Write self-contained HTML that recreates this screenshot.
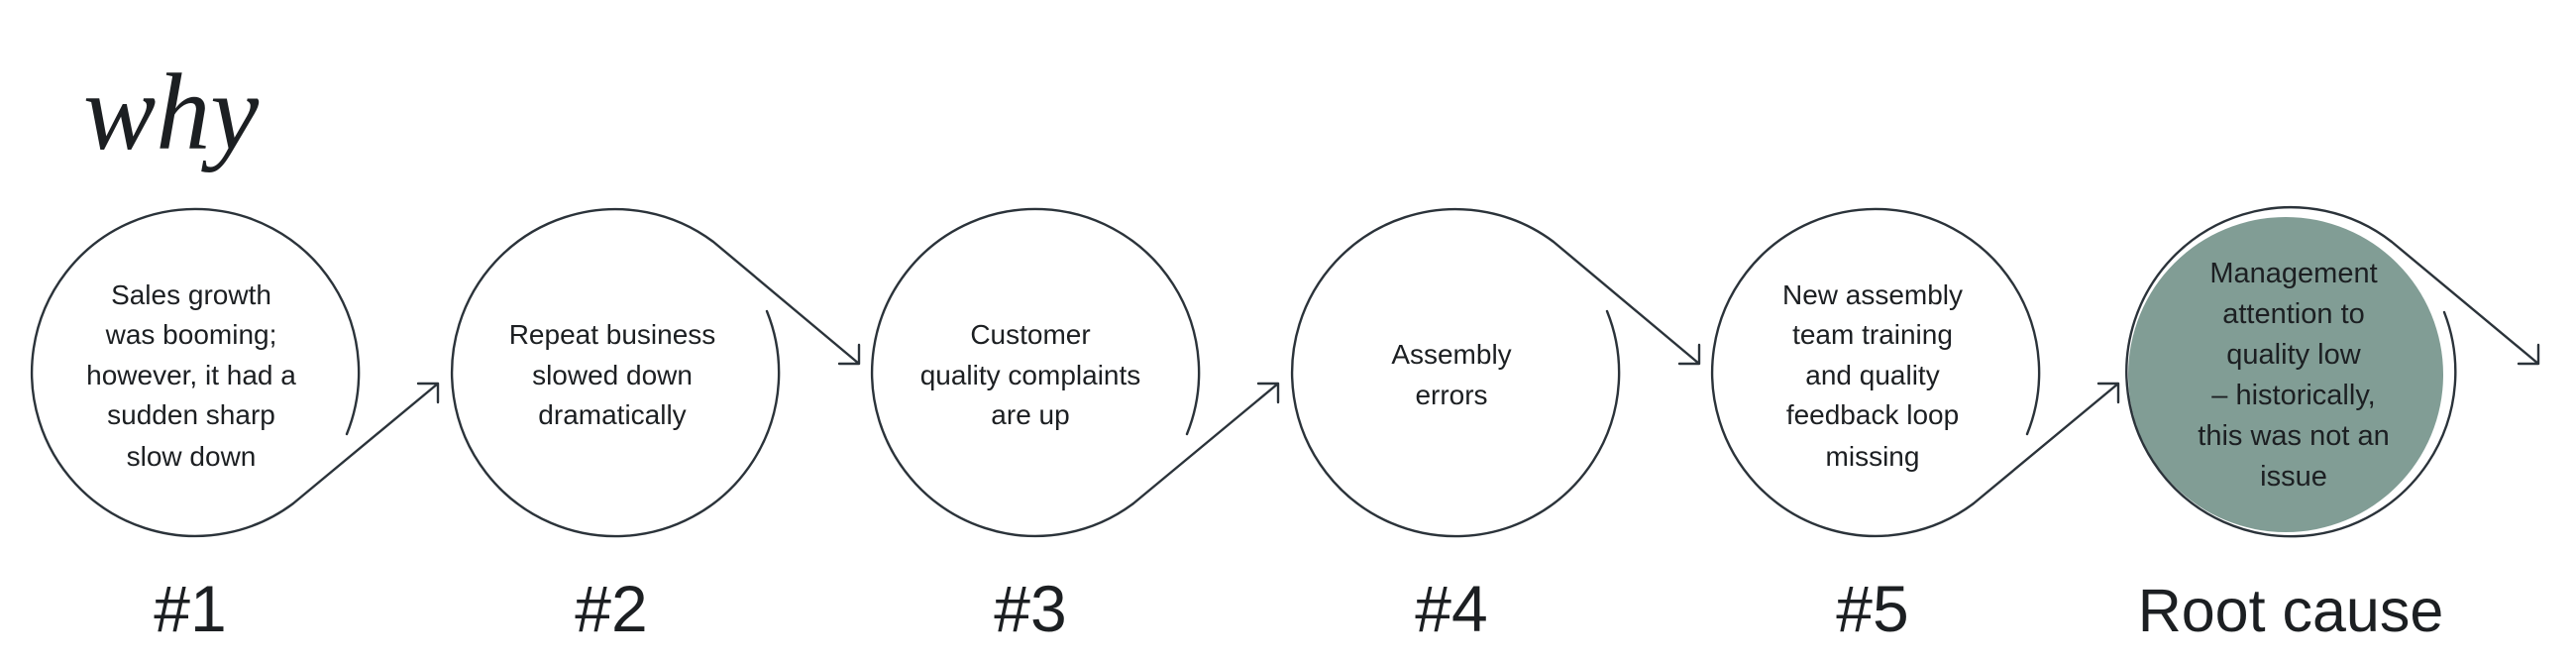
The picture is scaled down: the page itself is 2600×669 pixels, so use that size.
<!DOCTYPE html>
<html><head><meta charset="utf-8"><style>
html,body{margin:0;padding:0;background:#fff;}
svg{display:block;}
text{font-family:"Liberation Sans",sans-serif;fill:#1c1f22;}
</style></head><body>
<svg width="2600" height="669" viewBox="0 0 2600 669" xmlns="http://www.w3.org/2000/svg">
<text x="84" y="150" style="font-family:'Liberation Serif',serif;font-style:italic;font-size:110px;" fill="#111">why</text>
<g fill="none" stroke="#2b333a" stroke-width="2.4" stroke-linejoin="round" stroke-linecap="round">
<path d="M350 438 A165 165 0 1 0 296 508 L442 387 M422 387 L442 387 L442 406"/>
<path d="M774 314 A165 165 0 1 1 720 244 L867 367 M847 367 L867 367 L867 348"/>
<path d="M1198 438 A165 165 0 1 0 1144 508 L1290 387 M1270 387 L1290 387 L1290 406"/>
<path d="M1622 314 A165 165 0 1 1 1568 244 L1715 367 M1695 367 L1715 367 L1715 348"/>
<path d="M2046 438 A165 165 0 1 0 1992 508 L2138 387 M2118 387 L2138 387 L2138 406"/>
</g>
<circle cx="2307" cy="378" r="159" fill="#819d95"/>
<g fill="none" stroke="#2b333a" stroke-width="2.4" stroke-linejoin="round" stroke-linecap="round">
<path d="M2467 315 A166 166 0 1 1 2414 244 L2562 367 M2542 367 L2562 367 L2562 348"/>
</g>
<g font-size="28" text-anchor="middle">
<text x="193" y="307">Sales growth</text>
<text x="193" y="347">was booming;</text>
<text x="193" y="388">however, it had a</text>
<text x="193" y="428">sudden sharp</text>
<text x="193" y="470">slow down</text>

<text x="618" y="347">Repeat business</text>
<text x="618" y="388">slowed down</text>
<text x="618" y="428">dramatically</text>

<text x="1040" y="347">Customer</text>
<text x="1040" y="388">quality complaints</text>
<text x="1040" y="428">are up</text>

<text x="1465" y="367">Assembly</text>
<text x="1465" y="408">errors</text>

<text x="1890" y="307">New assembly</text>
<text x="1890" y="347">team training</text>
<text x="1890" y="388">and quality</text>
<text x="1890" y="428">feedback loop</text>
<text x="1890" y="470">missing</text>
</g>
<g font-size="29" text-anchor="middle">
<text x="2315" y="285">Management</text>
<text x="2315" y="326">attention to</text>
<text x="2315" y="367">quality low</text>
<text x="2315" y="408">– historically,</text>
<text x="2315" y="449">this was not an</text>
<text x="2315" y="490">issue</text>
</g>
<g font-size="66" text-anchor="middle">
<text x="192" y="637">#1</text>
<text x="617" y="637">#2</text>
<text x="1040" y="637">#3</text>
<text x="1465" y="637">#4</text>
<text x="1890" y="637">#5</text>
<text x="2312" y="637" font-size="61">Root cause</text>
</g>
</svg>
</body></html>
